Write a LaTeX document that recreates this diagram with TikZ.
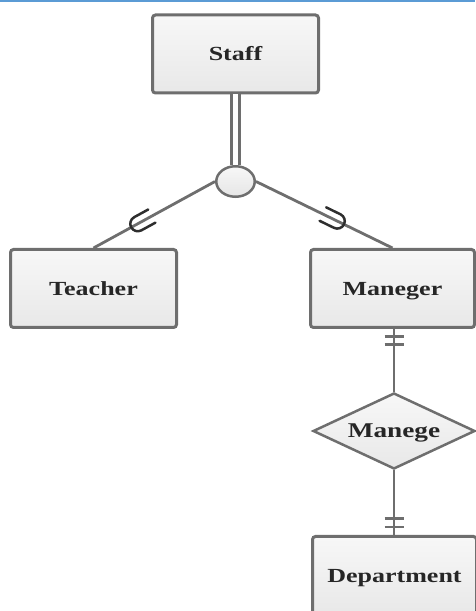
\documentclass[tikz,border=0pt]{standalone}
\usepackage{fontspec}
\setmainfont{Liberation Serif}
\usetikzlibrary{shapes.geometric,calc}
\definecolor{edgegray}{HTML}{6E6E6E}
\definecolor{txtgray}{HTML}{262626}
\definecolor{topblue}{HTML}{5B9BD5}
\definecolor{usymcol}{HTML}{2E2E2E}
\newcommand{\lbl}[1]{\scalebox{1.3}[1]{\bfseries #1}}
\tikzset{
  entity/.style={draw=edgegray, line width=3pt, rounded corners=3pt,
    top color=white!97!black, bottom color=white!91!black,
    minimum width=#1, minimum height=78pt, inner sep=0pt,
    text height=17.4pt, text depth=4pt,
    font=\fontsize{20}{24}\selectfont, text=txtgray},
  entity/.default=166pt,
  relbox/.style={draw=edgegray, line width=2.5pt, diamond, aspect=2.1,
    top color=white!97!black, bottom color=white!91!black,
    minimum width=162pt, minimum height=76pt, inner sep=0pt,
    text height=17.4pt, text depth=4pt,
    font=\fontsize{21}{24}\selectfont, text=txtgray},
  isa/.style={draw=edgegray, line width=2.5pt, ellipse,
    top color=white!97!black, bottom color=white!90!black,
    minimum width=38.5pt, minimum height=30.5pt, inner sep=0pt},
  conn/.style={draw=edgegray, line width=2.8pt},
  dconn/.style={draw=edgegray, line width=3pt, double=white, double distance=5pt},
  usym/.style={draw=usymcol, line width=2.5pt, line cap=round},
  tick/.style={draw=edgegray, line width=2.6pt},
}
\begin{document}
\begin{tikzpicture}[x=1pt,y=1pt]
\useasboundingbox (0,0) rectangle (475,611);
\coordinate (tl) at (0,610.2);
\coordinate (tr) at (475,610.2);
\draw[topblue, line width=1.8pt] (tl) -- (tr);

\node[entity] (staff) at (235.5,557) {\lbl{Staff}};
\node[entity] (teacher) at (93.5,322.5) {\lbl{Teacher}};
\node[entity=164pt] (man) at (392.5,322.5) {\lbl{Maneger}};
\node[entity=164pt] (dept) at (394.5,35.5) {\lbl{Department}};
\node[relbox] (rel) at (394,180) {\lbl{Manege}};
\node[isa] (circ) at (235.5,429.5) {};

% connectors
\draw[dconn] (staff.south) -- (circ.north);
\draw[conn] (circ.west) -- (teacher.north);
\draw[conn] (circ.east) -- (man.north);
\draw[conn] (man.south -| rel.north) -- (rel.north);
\draw[conn] (rel.south) -- (dept.north -| rel.south);

% subset symbols
\draw[usym] let \p1=($(teacher.north)-(circ.west)$), \n1={atan2(\y1,\x1)} in
  ($(circ.west)!0.52!(teacher.north)$) ++(\n1+90:7.5) -- ++(\n1:16)
  arc[start angle=\n1+90, end angle=\n1-90, radius=7.5] -- ++(\n1+180:16);
\draw[usym] let \p1=($(man.north)-(circ.east)$), \n1={atan2(\y1,\x1)} in
  ($(circ.east)!0.49!(man.north)$) ++(\n1+90:7.5) -- ++(\n1:16)
  arc[start angle=\n1+90, end angle=\n1-90, radius=7.5] -- ++(\n1+180:16);

% one-and-only-one ticks
\draw[tick] ($(man.south -| rel.north)+(-9.5,-7.5)$) -- ++(19,0);
\draw[tick] ($(man.south -| rel.north)+(-9.5,-15.5)$) -- ++(19,0);
\draw[tick] ($(dept.north -| rel.south)+(-9.5,8)$) -- ++(19,0);
\draw[tick] ($(dept.north -| rel.south)+(-9.5,16.5)$) -- ++(19,0);
\end{tikzpicture}
\end{document}
